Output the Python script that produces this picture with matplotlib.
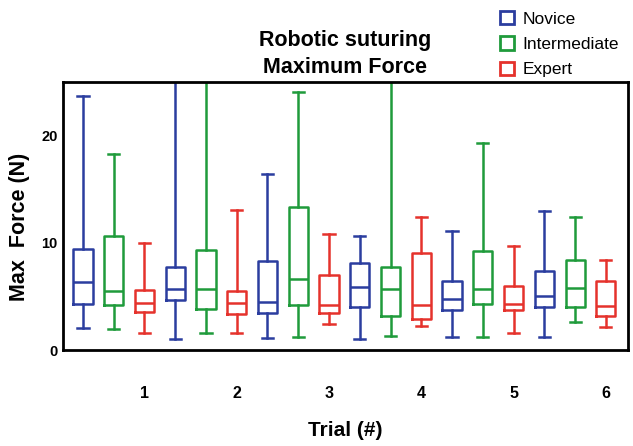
import matplotlib
matplotlib.use("Agg")
import matplotlib.pyplot as plt
from matplotlib.patches import Patch

plt.rcParams['font.family'] = ['Liberation Sans', 'DejaVu Sans']

trials = ["1", "2", "3", "4", "5", "6"]
groups = ["Novice", "Intermediate", "Expert"]
colors = ["#2B3D9F", "#1F9B3B", "#E5322C"]

# per trial: [whisker low, Q1, median, Q3, whisker high]
novice = [
    [2.1, 4.25, 6.33, 9.46, 23.7],
    [1.0, 4.65, 5.67, 7.75, 28.0],
    [1.08, 3.47, 4.5, 8.31, 16.4],
    [1.02, 4.03, 5.92, 8.15, 10.6],
    [1.24, 3.72, 4.78, 6.48, 11.1],
    [1.24, 3.97, 5.05, 7.38, 13.0],
]
intermediate = [
    [1.95, 4.19, 5.49, 10.6, 18.3],
    [1.61, 3.78, 5.73, 9.33, 28.0],
    [1.18, 4.19, 6.67, 13.33, 24.1],
    [1.33, 3.19, 5.67, 7.78, 28.0],
    [1.18, 4.25, 5.73, 9.27, 19.3],
    [2.63, 4.03, 5.8, 8.43, 12.37],
]
expert = [
    [1.55, 3.53, 4.43, 5.64, 9.98],
    [1.58, 3.35, 4.43, 5.55, 13.05],
    [2.39, 3.41, 4.19, 6.98, 10.79],
    [2.23, 2.88, 4.16, 9.05, 12.43],
    [1.61, 3.72, 4.25, 6.01, 9.7],
    [2.17, 3.16, 4.12, 6.42, 8.37],
]

fig = plt.figure(figsize=(6.33, 4.46), dpi=100)
ax = fig.add_axes([0.0995, 0.2152, 0.8925, 0.6009])

series = [novice, intermediate, expert]
for g, (data, col) in enumerate(zip(series, colors)):
    stats = []
    positions = []
    for t, (lo, q1, med, q3, hi) in enumerate(data):
        stats.append(dict(whislo=lo, q1=q1, med=med, q3=q3, whishi=hi, fliers=[]))
        positions.append(t * 3 + g + 1)
    lp = dict(color=col, linewidth=1.8)
    ax.bxp(stats, positions=positions, widths=0.62, capwidths=0.36,
           showfliers=False, patch_artist=False,
           boxprops=lp, whiskerprops=lp, capprops=lp, medianprops=lp)

ax.set_xlim(0.35, 18.72)
ax.set_ylim(0, 25)
ax.set_xticks([3, 6, 9, 12, 15, 18])
ax.set_xticklabels(trials, fontsize=11.5, fontweight='bold')
ax.set_yticks([0, 10, 20])
ax.set_yticklabels(["0", "10", "20"], fontsize=10.5, fontweight='bold')
ax.tick_params(axis='x', length=0, pad=26)
ax.tick_params(axis='y', length=0, pad=4)
for s in ax.spines.values():
    s.set_linewidth(2)

ax.set_xlabel("Trial (#)", fontsize=15, fontweight='bold', labelpad=14)
ax.set_ylabel("Max  Force (N)", fontsize=15.5, fontweight='bold', labelpad=2)
ax.yaxis.set_label_coords(-0.058, 0.46)

fig.text(0.545, 0.825, "Robotic suturing\nMaximum Force", ha='center', va='bottom',
         fontsize=15.5, fontweight='bold', linespacing=1.4)

handles = [Patch(facecolor='white', edgecolor=c, linewidth=2, label=l)
           for c, l in zip(colors, groups)]
fig.legend(handles=handles, loc='upper left', bbox_to_anchor=(0.765, 1.01),
           frameon=False, fontsize=12.5, handlelength=0.8, handleheight=0.8,
           handletextpad=0.5, labelspacing=0.55)

fig.savefig("out.png", dpi=100)
